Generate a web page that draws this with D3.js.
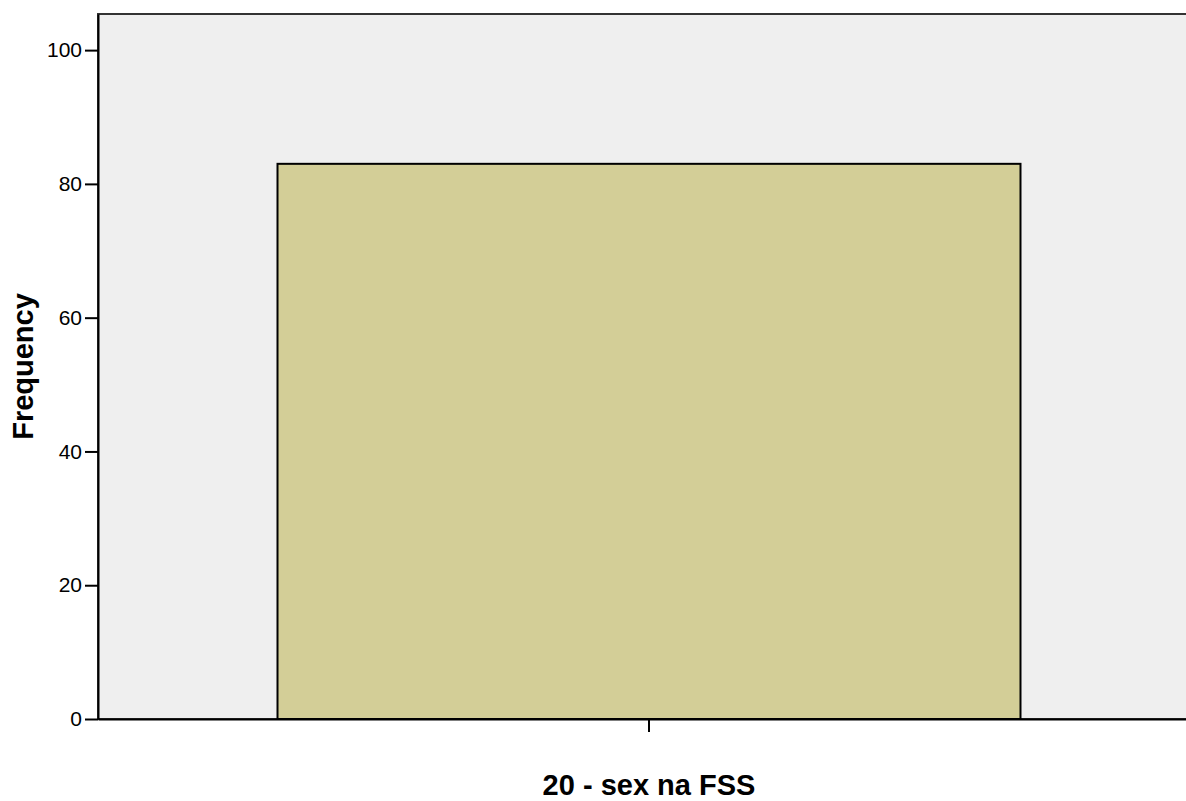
<!DOCTYPE html>
<html>
<head>
<meta charset="utf-8">
<script src="https://cdn.jsdelivr.net/npm/d3@7"></script>
<style>
  body { margin: 0; background: #fff; }
  text { font-family: "Liberation Sans", Arial, sans-serif; }
</style>
</head>
<body>
<div id="chart"></div>
<script>
// data
const categories = [""];
const frequencies = [83];
const yTicks = [0, 20, 40, 60, 80, 100];
const yMax = 105.4;
const xTitle = "20 - sex na FSS";
const yTitle = "Frequency";

const width = 1186, height = 801;
const margin = { top: 14, right: -14, bottom: 82, left: 98 };

const svg = d3.select("#chart")
    .append("svg")
        .attr("width", width)
        .attr("height", height);

const x = d3.scaleBand()
    .domain(categories)
    .range([margin.left, width - margin.right])
    .paddingInner(0)
    .paddingOuter(0.2416);

const y = d3.scaleLinear()
    .domain([0, yMax])
    .range([height - margin.bottom, margin.top]);

// plot background
svg.append("rect")
    .attr("x", margin.left)
    .attr("y", margin.top)
    .attr("width", width - margin.right - margin.left)
    .attr("height", height - margin.bottom - margin.top)
    .style("fill", "#efefef")
    .style("stroke", "#333")
    .style("stroke-width", 2);

// bars
svg.append("g")
    .selectAll("rect")
    .data(frequencies)
    .enter()
    .append("rect")
        .attr("x", (d, i) => x(categories[i]))
        .attr("y", d => y(d))
        .attr("width", x.bandwidth())
        .attr("height", d => y(0) - y(d))
        .style("fill", "#d3ce97")
        .style("stroke", "#000")
        .style("stroke-width", 2);

// y axis
const yAxis = svg.append("g")
    .attr("transform", `translate(${margin.left},0)`)
    .call(d3.axisLeft(y).tickValues(yTicks).tickSizeInner(13).tickSizeOuter(0).tickPadding(3).tickFormat(d3.format("d")));
yAxis.select(".domain").style("stroke", "#000").style("stroke-width", 2);
yAxis.selectAll(".tick line").style("stroke", "#000").style("stroke-width", 2);
yAxis.selectAll("text")
    .style("font-size", "21px")
    .style("fill", "#000")
    .style("font-family", "'Liberation Sans', Arial, sans-serif");

// x axis
const xAxis = svg.append("g")
    .attr("transform", `translate(0,${height - margin.bottom})`)
    .call(d3.axisBottom(x).tickSizeInner(13).tickSizeOuter(0).tickFormat(d => d));
xAxis.select(".domain").style("stroke", "#000").style("stroke-width", 2);
xAxis.selectAll(".tick line").style("stroke", "#000").style("stroke-width", 2);

// axis titles
svg.append("text")
    .attr("x", x(categories[0]) + x.bandwidth() / 2)
    .attr("y", 795)
    .attr("text-anchor", "middle")
    .style("font-size", "29px")
    .style("font-weight", "bold")
    .text(xTitle);

svg.append("text")
    .attr("transform", `translate(33,${(margin.top + height - margin.bottom) / 2}) rotate(-90)`)
    .attr("text-anchor", "middle")
    .style("font-size", "29px")
    .style("font-weight", "bold")
    .text(yTitle);
</script>
</body>
</html>
